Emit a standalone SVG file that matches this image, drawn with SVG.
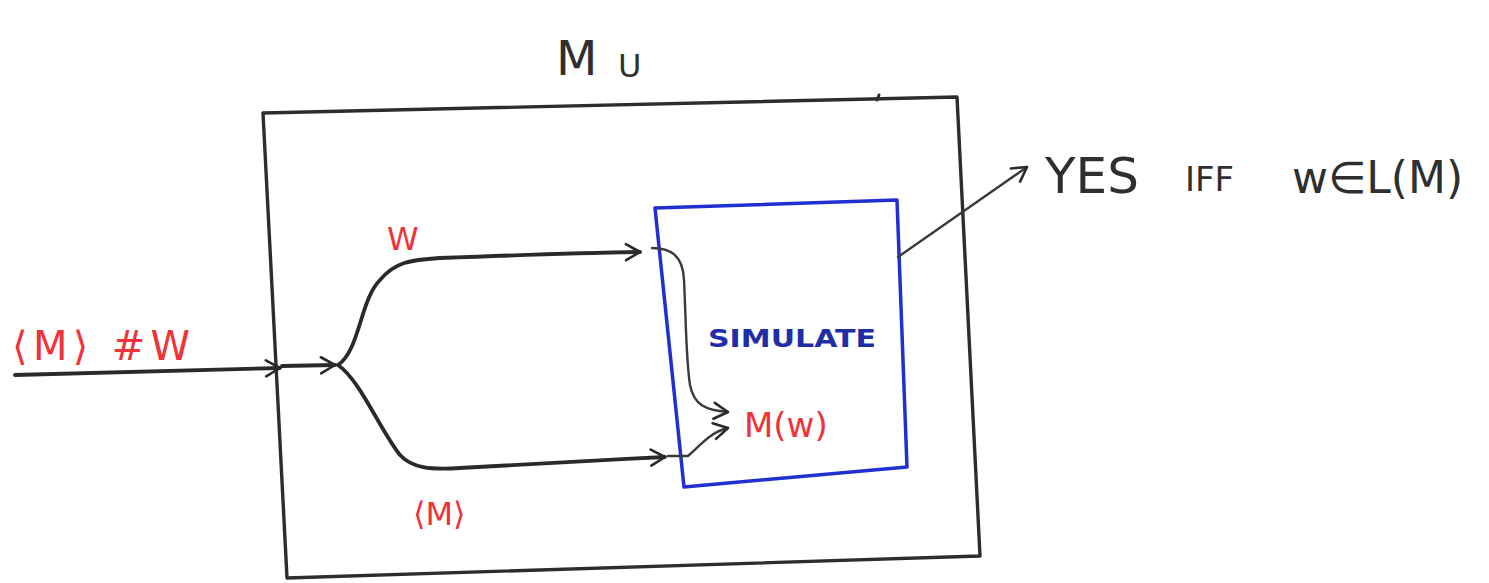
<svg xmlns="http://www.w3.org/2000/svg" width="1489" height="583" viewBox="0 0 1489 583">
  <defs>
    <marker id="open-arrow" viewBox="0 0 20 20" refX="17" refY="10" markerWidth="20" markerHeight="20" markerUnits="userSpaceOnUse" orient="auto">
      <path d="M3,2 L17,10 L3,18" fill="none" stroke="#2a2a2a" stroke-width="2.6" stroke-linecap="round" stroke-linejoin="round"/>
    </marker>
  </defs>
  <style>
    .ink { fill: none; stroke: #2d2d2d; stroke-linecap: round; stroke-linejoin: round; }
    .wire { fill: none; stroke: #2a2a2a; stroke-width: 3.8; stroke-linecap: round; marker-end: url(#open-arrow); }
    .thin { fill: none; stroke: #3a3a3a; stroke-width: 2.4; stroke-linecap: round; marker-end: url(#open-arrow); }
    .red { fill: #f0323a; font-family: "DejaVu Sans", sans-serif; }
    .dark { fill: #2f2f2f; font-family: "DejaVu Sans", sans-serif; }
    .blue { fill: #1e2ea8; font-family: "DejaVu Sans", sans-serif; font-weight: bold; }
  </style>
  <rect width="1489" height="583" fill="#ffffff"/>

  <!-- universal machine M_U -->
  <g id="machine-u">
    <path class="ink" stroke-width="3.4" d="M263,113 L957,97 L980,556 L287,578 Z"/>
    <path class="ink" stroke-width="3" d="M877,100 L879,95"/>
    <text class="dark" x="556" y="75" font-size="48">M</text>
    <text class="dark" x="618" y="77" font-size="32">U</text>
  </g>

  <!-- simulator box -->
  <g id="simulate">
    <path fill="none" stroke="#1f2fd0" stroke-width="3.5" stroke-linejoin="round" d="M655,208 L897,200 L907,467 L684,487 Z"/>
    <text class="blue" x="708" y="347" font-size="24" textLength="168" lengthAdjust="spacingAndGlyphs">SIMULATE</text>
    <text class="red" x="744" y="437" font-size="34">M(w)</text>
  </g>

  <!-- labels -->
  <g id="labels">
    <text class="red" x="12" y="360" font-size="40" textLength="178" lengthAdjust="spacing">⟨M⟩ #W</text>
    <text class="red" x="387" y="250" font-size="32">W</text>
    <text class="red" x="413" y="525" font-size="32">⟨M⟩</text>
    <text class="dark" x="1045" y="193" font-size="50">YES</text>
    <text class="dark" x="1185" y="191" font-size="34">IFF</text>
    <text class="dark" x="1292" y="193" font-size="44">w∈L(M)</text>
  </g>

  <!-- connectors -->
  <g id="connectors">
    <path class="wire" d="M15,375 C120,372 200,370 280,368"/>
    <path class="wire" d="M282,366 L335,365"/>
    <path class="wire" d="M338,365 C360,350 360,300 380,280 C395,262 410,260 440,258 C520,255 580,253 640,252"/>
    <path class="wire" d="M338,365 C360,380 380,430 400,455 C412,468 430,470 460,468 C540,464 600,460 665,457"/>
    <path class="thin" d="M652,248 C670,248 683,255 684,280 C686,320 686,360 690,385 C694,405 705,410 728,412"/>
    <path class="thin" d="M668,456 L688,456 C700,446 710,432 728,428"/>
    <path class="thin" d="M898,257 L1027,167"/>
  </g>
</svg>
